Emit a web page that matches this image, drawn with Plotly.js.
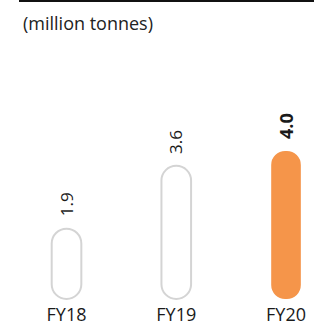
<!DOCTYPE html>
<html>
<head>
<meta charset="utf-8">
<script src="https://cdn.plot.ly/plotly-3.0.1.min.js"></script>
<style>html,body{margin:0;padding:0;background:#fff;}#chart{width:314px;height:327px;}</style>
</head>
<body>
<div id="chart"></div>
<script>
var categories = ["FY18", "FY19", "FY20"];
var values = [1.9, 3.6, 4.0];
var valueLabels = ["1.9", "3.6", "<b>4.0</b>"];
var unitLabel = "(million tonnes)";

var fillColors = ["#ffffff", "#ffffff", "#F5954A"];
var lineColors = ["#d4d4d4", "#d4d4d4", "#F5954A"];
var lineWidths = [2, 2, 0];
var FONT = "Open Sans, DejaVu Sans, sans-serif";

var bars = {
  type: "bar", x: categories, y: values,
  base: values.map(function () { return 0; }),
  width: 0.27,
  marker: { color: fillColors, line: { color: lineColors, width: lineWidths }, cornerradius: "50%" },
  hoverinfo: "skip"
};

var annotations = categories.map(function (c, i) {
  return {
    x: c, y: values[i], xref: "x", yref: "y",
    text: valueLabels[i], showarrow: false, textangle: -90,
    yanchor: "bottom", xanchor: "center", yshift: 10,
    font: { family: FONT, size: i === 2 ? 18 : 17, color: "#1a1a1a" }
  };
});

var layout = {
  width: 314, height: 327,
  margin: { l: 0, r: 0, t: 0, b: 26 },
  paper_bgcolor: "#ffffff", plot_bgcolor: "#ffffff",
  showlegend: false, hovermode: false,
  title: {
    text: unitLabel, x: 23 / 314, xanchor: "left", xref: "paper",
    y: 1 - 24 / 327, yanchor: "middle", yref: "container",
    font: { family: FONT, size: 18, color: "#222222" }
  },
  xaxis: {
    type: "category", categoryorder: "array", categoryarray: categories,
    range: [-0.606, 2.255], showgrid: false, zeroline: false, showline: false,
    ticks: "", ticklabelstandoff: 1,
    tickfont: { family: FONT, size: 18, color: "#1a1a1a" }, fixedrange: true
  },
  yaxis: {
    range: [-0.054, 8.08], visible: false, showgrid: false, zeroline: false, fixedrange: true
  },
  shapes: [{
    type: "line", xref: "paper", yref: "paper",
    x0: 19 / 314, x1: 1, y0: 1 - 1 / 301, y1: 1 - 1 / 301,
    line: { color: "#111111", width: 2 }
  }],
  annotations: annotations
};

Plotly.newPlot("chart", [bars], layout, { staticPlot: true, displayModeBar: false });
</script>
</body>
</html>
